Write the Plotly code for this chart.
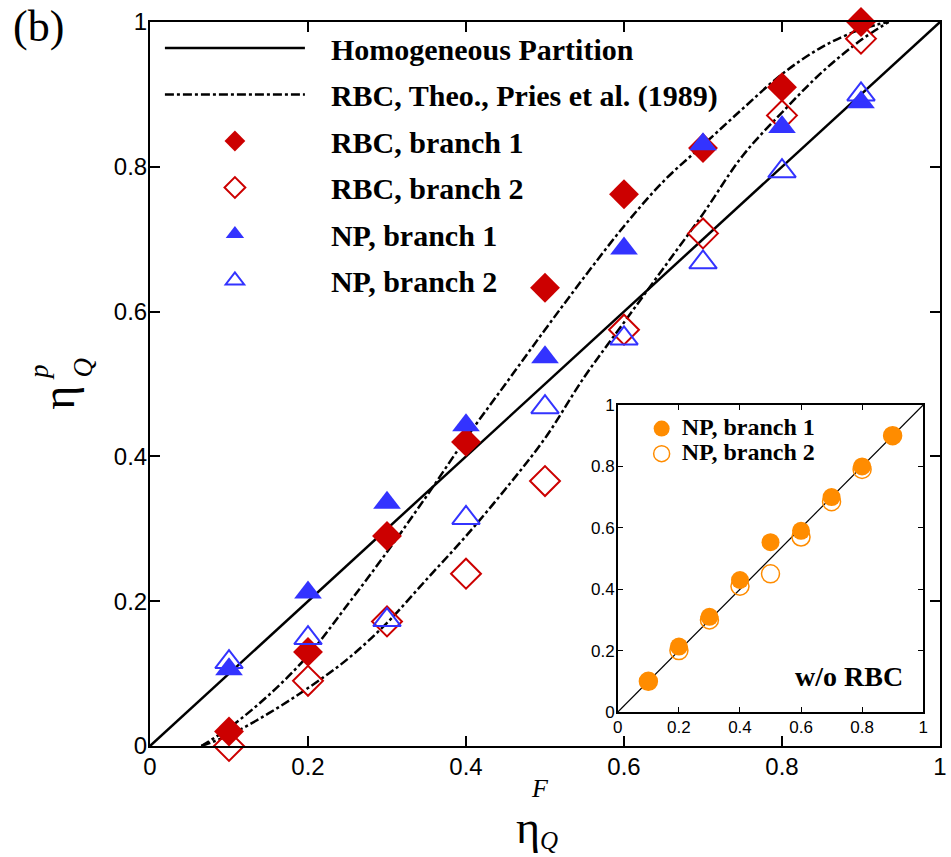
import plotly.graph_objects as go

# ---------------- data ----------------
eta_F = [0.1, 0.2, 0.3, 0.4, 0.5, 0.6, 0.7, 0.8, 0.9]

rbc_b1 = [0.02, 0.13, 0.29, 0.42, 0.633, 0.762, 0.826, 0.91, 1.0]
rbc_b2 = [0.0, 0.09, 0.172, 0.238, 0.366, 0.575, 0.708, 0.871, 0.977]
np_b1 = [0.106, 0.212, 0.336, 0.443, 0.537, 0.687, 0.831, 0.855, 0.889]
np_b2 = [0.116, 0.149, 0.174, 0.315, 0.468, 0.563, 0.668, 0.794, 0.90]

homog_x = [0.0, 1.0]
homog_y = [0.0, 1.0]

# Pries et al. (1989) theoretical curves
theo1_x = [0.065, 0.10, 0.15, 0.20, 0.25, 0.30, 0.35, 0.40, 0.45, 0.50, 0.55,
           0.60, 0.65, 0.70, 0.75, 0.80, 0.85, 0.90, 0.935]
theo1_y = [0.0, 0.025, 0.07, 0.125, 0.195, 0.268, 0.345, 0.425, 0.50, 0.575,
           0.648, 0.718, 0.78, 0.83, 0.88, 0.928, 0.965, 0.99, 1.0]
theo2_x = [0.065, 0.10, 0.15, 0.20, 0.25, 0.30, 0.35, 0.40, 0.45, 0.50, 0.55,
           0.60, 0.65, 0.70, 0.75, 0.80, 0.85, 0.90, 0.935]
theo2_y = [0.0, 0.015, 0.045, 0.08, 0.12, 0.17, 0.23, 0.29, 0.355, 0.425, 0.51,
           0.585, 0.66, 0.735, 0.815, 0.875, 0.93, 0.975, 1.0]

# inset (w/o RBC)
inset_x = [0.1, 0.2, 0.3, 0.4, 0.5, 0.6, 0.7, 0.8, 0.9]
inset_b1 = [0.10, 0.213, 0.31, 0.43, 0.553, 0.59, 0.70, 0.80, 0.90]
inset_b2 = [0.10, 0.20, 0.30, 0.41, 0.45, 0.57, 0.685, 0.79, 0.90]

tick_vals = [0, 0.2, 0.4, 0.6, 0.8, 1]
tick_text = ["0", "0.2", "0.4", "0.6", "0.8", "1"]

# ---------------- styling ----------------
RED = "#CC0000"
BLUE = "#3333FF"
ORANGE = "#FF8C00"
W, H = 951, 857
L, R, T, B = 150, 4, 22, 111
PW, PH = W - L - R, H - T - B
SERIF = "Liberation Serif, Times New Roman, serif"
PAD = "\u2002\u2009"


def px2paper(px, py):
    return (px - L) / PW, (H - B - py) / PH


def big(s):
    return '<span style="font-size:24px"><b>' + s + '</b></span>'


fig = go.Figure()

fig.add_trace(go.Scatter(x=homog_x, y=homog_y, mode="lines",
                         name=PAD + "<b>Homogeneous Partition</b>", legendgroup="a",
                         line=dict(color="black", width=2.5)))
fig.add_trace(go.Scatter(x=theo1_x, y=theo1_y, mode="lines",
                         name=PAD + "<b>RBC, Theo., Pries et al. (1989)</b>", legendgroup="b",
                         line=dict(color="black", width=2.5, dash="dashdot"), line_shape="spline"))
fig.add_trace(go.Scatter(x=theo2_x, y=theo2_y, mode="lines", showlegend=False, legendgroup="b",
                         line=dict(color="black", width=2.5, dash="dashdot"), line_shape="spline"))
fig.add_trace(go.Scatter(x=eta_F, y=rbc_b1, mode="markers", name=PAD + "<b>RBC, branch 1</b>",
                         legendgroup="c", cliponaxis=False,
                         marker=dict(symbol="diamond", size=23, color=RED, line=dict(width=0))))
fig.add_trace(go.Scatter(x=eta_F, y=rbc_b2, mode="markers", name=PAD + "<b>RBC, branch 2</b>",
                         legendgroup="d", cliponaxis=False,
                         marker=dict(symbol="diamond-open", size=23, color=RED, line=dict(width=2))))
fig.add_trace(go.Scatter(x=eta_F, y=np_b1, mode="markers", name=PAD + "<b>NP, branch 1</b>",
                         legendgroup="e", cliponaxis=False,
                         marker=dict(symbol="triangle-up", size=24, color=BLUE, line=dict(width=0))))
fig.add_trace(go.Scatter(x=eta_F, y=np_b2, mode="markers", name=PAD + "<b>NP, branch 2</b>",
                         legendgroup="f", cliponaxis=False,
                         marker=dict(symbol="triangle-up-open", size=24, color=BLUE, line=dict(width=2))))

# inset
fig.add_trace(go.Scatter(x=homog_x, y=homog_y, mode="lines", xaxis="x2", yaxis="y2",
                         showlegend=False, line=dict(color="black", width=1.2)))
fig.add_trace(go.Scatter(x=inset_x, y=inset_b1, mode="markers", xaxis="x2", yaxis="y2",
                         name=big("NP, branch 1"), legend="legend2", legendgroup="g",
                         marker=dict(symbol="circle", size=18, color=ORANGE, line=dict(width=0))))
fig.add_trace(go.Scatter(x=inset_x, y=inset_b2, mode="markers", xaxis="x2", yaxis="y2",
                         name=big("NP, branch 2"), legend="legend2", legendgroup="h",
                         marker=dict(symbol="circle-open", size=18, color=ORANGE, line=dict(width=1.5))))

tickfont_main = dict(family="Liberation Sans, Arial, sans-serif", size=24, color="black")
tickfont_inset = dict(family="Liberation Sans, Arial, sans-serif", size=17, color="black")

main_axis = dict(range=[0, 1], tickvals=tick_vals, ticktext=tick_text, ticks="inside",
                 ticklen=10, tickwidth=2, tickcolor="black", showline=True, linewidth=2,
                 linecolor="black", mirror="allticks", showgrid=False, zeroline=False,
                 tickfont=tickfont_main)
inset_axis = dict(range=[0, 1], tickvals=tick_vals, ticktext=tick_text, ticks="inside",
                  ticklen=5, tickwidth=1, tickcolor="black", showline=True, linewidth=1.5,
                  linecolor="black", mirror="allticks", showgrid=False, zeroline=False,
                  tickfont=tickfont_inset)

ix0, iy0 = px2paper(622, 712)
ix1, iy1 = px2paper(930, 405)

lgx, lgy = px2paper(160, 22)
lg2x, lg2y = px2paper(646, 411)

fig.update_layout(
    width=W, height=H,
    margin=dict(l=L, r=R, t=T, b=B),
    paper_bgcolor="white", plot_bgcolor="white",
    xaxis=dict(main_axis, domain=[0, 1], anchor="y"),
    yaxis=dict(main_axis, domain=[0, 1], anchor="x"),
    xaxis2=dict(inset_axis, domain=[ix0, ix1], anchor="y2"),
    yaxis2=dict(inset_axis, domain=[iy0, iy1], anchor="x2"),
    showlegend=True,
    legend=dict(x=lgx, y=lgy, xanchor="left", yanchor="top", bgcolor="rgba(0,0,0,0)",
                font=dict(family=SERIF, size=30, color="black"),
                itemwidth=140, tracegroupgap=4.5, traceorder="grouped"),
    legend2=dict(x=lg2x, y=lg2y, xanchor="left", yanchor="top", bgcolor="rgba(0,0,0,0)",
                 font=dict(family=SERIF, size=17, color="black"),
                 itemwidth=30, tracegroupgap=0, traceorder="grouped"),
)

# pull tick labels a little closer to the axes
for ax_name, shift in (("yaxis", -4), ("xaxis", -2), ("yaxis2", -2), ("xaxis2", -1)):
    try:
        fig.layout[ax_name].ticklabelstandoff = shift
    except Exception:
        fig.layout[ax_name].ticklabelstandoff = 0

annos = []
x, y = px2paper(38, 27)
annos.append(dict(x=x, y=y, text="(b)", font=dict(family=SERIF, size=44, color="black")))
# x-axis title
x, y = px2paper(531, 827)
annos.append(dict(x=x, y=y, text="η", font=dict(family=SERIF, size=46, color="black")))
x, y = px2paper(543, 788)
annos.append(dict(x=x, y=y, text="<i>F</i>", font=dict(family=SERIF, size=26, color="black")))
x, y = px2paper(553, 840)
annos.append(dict(x=x, y=y, text="<i>Q</i>", font=dict(family=SERIF, size=25, color="black")))
# y-axis title
x, y = px2paper(57, 398)
annos.append(dict(x=x, y=y, text="η", textangle=-90, font=dict(family=SERIF, size=46, color="black")))
x, y = px2paper(38, 372)
annos.append(dict(x=x, y=y, text="<i>p</i>", textangle=-90, font=dict(family=SERIF, size=27, color="black")))
x, y = px2paper(82, 368)
annos.append(dict(x=x, y=y, text="<i>Q</i>", textangle=-90, font=dict(family=SERIF, size=27, color="black")))
for a in annos:
    a.update(xref="paper", yref="paper", showarrow=False, xanchor="center", yanchor="middle")
annos.append(dict(x=0.756, y=0.117, xref="x2", yref="y2", text="<b>w/o RBC</b>", showarrow=False,
                  xanchor="center", yanchor="middle", font=dict(family=SERIF, size=28, color="black")))
fig.update_layout(annotations=annos)

fig.write_html("out.html", config={"displayModeBar": False},
               post_script="document.body.style.margin='0px';document.body.style.overflow='hidden';")
